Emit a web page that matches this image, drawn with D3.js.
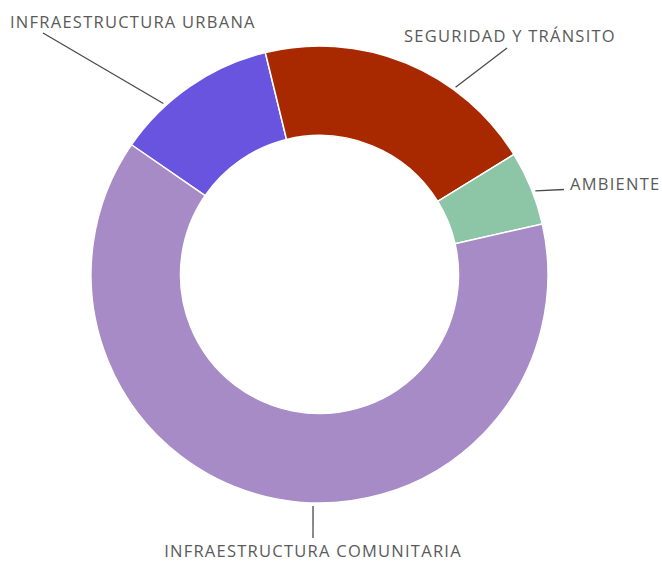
<!DOCTYPE html>
<html>
<head>
<meta charset="utf-8">
<script src="https://cdn.jsdelivr.net/npm/d3@7"></script>
<style>
  html, body { margin: 0; padding: 0; background: #fff; }
  svg { display: block; }
</style>
</head>
<body>
<svg id="chart" width="662" height="561"></svg>
<script>
// ---- data ----
const categories = ["INFRAESTRUCTURA URBANA", "SEGURIDAD Y TRÁNSITO", "AMBIENTE", "INFRAESTRUCTURA COMUNITARIA"];
const values = [11, 19, 5, 60];
const colors = ["#6954e0", "#a82800", "#8dc5a7", "#a78bc7"];

// ---- label layout (annotation placement, not data) ----
const labelAngleDeg = [-42.4, 36, 68.8, 181.6];      // where leader touches the ring
const labelLineEnd = [[43, 33], [507, 48], [564, 189.5], [313, 538]];
const labelTextPos = [[10, 27.5, "start"], [404, 41.5, "start"], [570, 190, "start"], [313, 557, "middle"]];

const W = 662, H = 561;
const cx = 319.5, cy = 274.5;
const outerR = 228.5, innerR = 139;
const startDeg = -55.4;

const svg = d3.select("#chart");
const g = svg.append("g").attr("transform", `translate(${cx},${cy})`);

const pie = d3.pie().sort(null)
  .startAngle(startDeg * Math.PI / 180)
  .endAngle((startDeg + 360) * Math.PI / 180)
  .value(d => d.v);
const arc = d3.arc().innerRadius(innerR).outerRadius(outerR);

const data = categories.map((c, i) => ({ c, v: values[i], col: colors[i] }));
const arcs = pie(data);

g.selectAll("path.slice").data(arcs).join("path")
  .attr("class", "slice")
  .attr("d", arc)
  .attr("fill", d => d.data.col)
  .attr("stroke", "#fff")
  .attr("stroke-width", 1.5)
  .attr("stroke-linejoin", "round");

// leader lines
const lines = svg.append("g");
arcs.forEach((a, i) => {
  const th = labelAngleDeg[i] * Math.PI / 180;
  const r = outerR + 3;
  const x0 = cx + r * Math.sin(th), y0 = cy - r * Math.cos(th);
  lines.append("line")
    .attr("x1", x0).attr("y1", y0)
    .attr("x2", labelLineEnd[i][0]).attr("y2", labelLineEnd[i][1])
    .attr("stroke", "#4a4a4a").attr("stroke-width", 1.3);
});

// labels
svg.append("g").selectAll("text").data(arcs).join("text")
  .attr("x", (d, i) => labelTextPos[i][0])
  .attr("y", (d, i) => labelTextPos[i][1])
  .attr("text-anchor", (d, i) => labelTextPos[i][2])
  .attr("font-family", "'Open Sans', 'Noto Sans', sans-serif")
  .attr("font-size", 16.5)
  .attr("letter-spacing", 1.25)
  .attr("fill", "#5a5a5a")
  .text(d => d.data.c);
</script>
</body>
</html>
